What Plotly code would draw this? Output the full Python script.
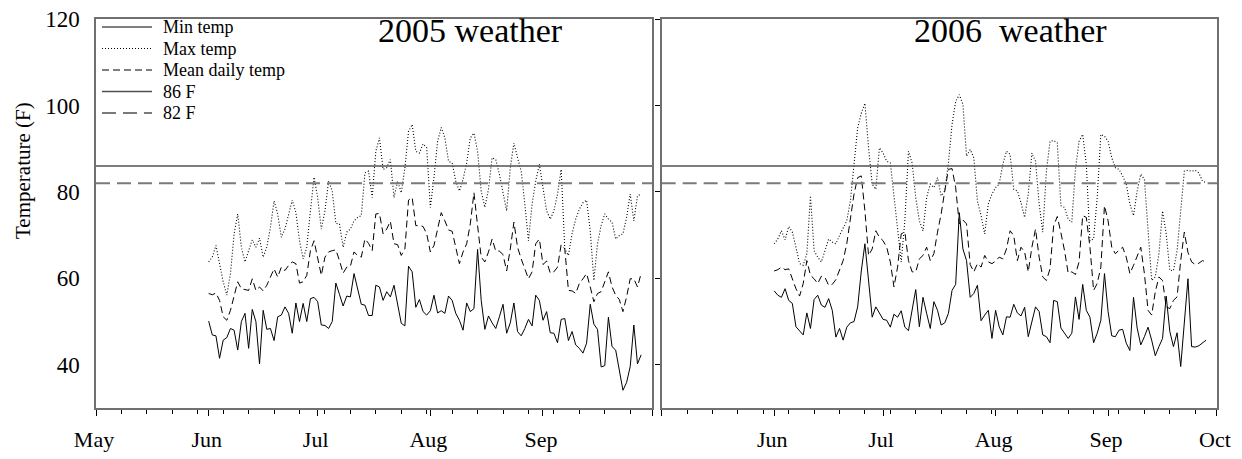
import pandas as pd
import plotly.graph_objects as go

# ---------------- data ----------------
START_2005 = "2005-06-01"
START_2006 = "2006-06-01"

min_2005 = [50.1, 46.9, 46.7, 41.5, 45.7, 46.3, 48.4, 48.0, 43.4, 50.0, 51.9, 43.8, 52.8, 50.0, 40.2, 52.6,
            48.2, 48.4, 45.6, 51.1, 51.5, 53.4, 51.9, 47.3, 54.3, 50.0, 54.2, 50.0, 55.3, 55.6, 54.6, 49.2,
            49.1, 48.4, 50.0, 58.9, 56.3, 53.6, 55.9, 55.7, 61.1, 57.6, 54.0, 53.8, 51.4, 51.4, 58.4, 58.0,
            54.9, 56.9, 55.7, 58.4, 54.2, 49.6, 49.0, 62.8, 61.5, 53.3, 55.1, 52.3, 51.5, 52.5, 56.1, 52.0,
            52.5, 51.9, 55.9, 54.9, 51.9, 50.3, 48.0, 54.3, 52.3, 53.0, 66.7, 54.9, 48.2, 51.3, 49.7, 48.4,
            51.1, 54.0, 47.3, 49.7, 54.3, 47.7, 46.7, 48.4, 50.5, 49.0, 56.1, 54.9, 50.3, 52.3, 47.4, 47.3,
            45.1, 50.5, 50.7, 45.6, 47.7, 44.6, 43.8, 42.7, 45.0, 54.0, 49.4, 48.2, 39.5, 39.8, 51.0, 44.2,
            43.4, 39.0, 34.1, 35.9, 39.6, 49.2, 40.2, 42.3]
max_2005 = [63.8, 64.9, 67.6, 63.4, 59.2, 56.1, 61.1, 70.3, 74.9, 67.2, 63.8, 66.4, 68.9, 67.2, 69.3, 64.9,
            67.2, 71.8, 77.9, 74.9, 69.5, 71.4, 74.9, 78.1, 75.2, 68.7, 64.5, 67.2, 75.6, 83.4, 78.7, 71.4,
            75.6, 82.5, 80.2, 72.7, 72.6, 67.2, 70.7, 71.4, 73.3, 74.1, 74.5, 84.4, 84.8, 78.7, 89.4,
            92.5, 85.2, 85.6, 87.5, 78.7, 82.5, 79.8, 85.6, 94.0, 95.6, 89.4, 89.0, 91.1, 90.2, 76.4, 83.3,
            91.7, 94.9, 92.5, 87.1, 86.7, 82.5, 80.2, 82.9, 86.7, 92.5, 93.6, 89.4, 80.2, 76.4, 80.6, 87.9,
            87.5, 84.1, 80.2, 75.6, 85.6, 91.3, 87.9, 84.8, 77.2, 68.7, 77.2, 82.5, 86.4, 81.0, 75.6, 73.7,
            75.6, 79.5, 85.2, 66.8, 65.3, 70.3, 73.7, 76.0, 77.5, 78.1, 71.0, 59.5, 68.0, 72.2, 74.9, 73.7,
            73.0, 69.1, 69.9, 70.3, 74.1, 79.5, 73.3, 79.1, 79.5]
mean_2005 = [56.5, 56.2, 56.6, 54.9, 51.1, 50.3, 52.6, 55.7, 59.2, 57.6, 57.4, 57.2, 59.9, 57.2, 58.0, 57.1,
             58.4, 60.3, 62.2, 60.3, 62.6, 61.8, 63.0, 63.8, 63.4, 58.9, 59.2, 60.7, 66.4, 68.7, 64.9, 60.7,
             64.9, 66.1, 66.4, 66.6, 64.1, 61.2, 62.6, 62.8, 66.1, 65.3, 64.9, 69.1, 68.1, 66.4, 74.9,
             75.0, 70.3, 71.4, 73.2, 68.0, 67.8, 65.3, 66.8, 78.1, 78.7, 72.2, 72.2, 72.0, 70.3, 66.1, 67.6,
             71.8, 75.2, 73.3, 71.2, 70.9, 67.2, 63.4, 66.1, 68.0, 72.6, 79.8, 72.2, 64.9, 63.8, 66.1, 69.1,
             66.3, 66.3, 65.5, 61.7, 66.8, 73.0, 67.2, 64.5, 62.2, 59.9, 61.5, 68.0, 69.1, 63.2, 64.0, 61.2,
             61.5, 62.6, 67.8, 66.8, 57.2, 57.1, 56.5, 58.8, 59.9, 61.1, 58.0, 54.6, 56.5, 56.9, 59.2, 61.5,
             58.0, 56.1, 55.1, 52.3, 55.7, 59.9, 59.9, 58.0, 61.1]

min_2006 = [57.1, 56.1, 55.6, 57.6, 54.9, 54.2, 48.8, 47.9, 46.9, 52.0, 48.4, 55.1, 56.1, 53.8, 53.3, 55.3,
            52.6, 46.4, 48.4, 45.7, 48.7, 49.7, 50.0, 53.4, 61.7, 68.0, 58.8, 51.0, 53.4, 51.9, 50.5, 50.3,
            48.7, 51.7, 51.0, 52.5, 48.7, 47.9, 52.6, 57.4, 48.8, 55.6, 51.9, 48.4, 54.6, 52.6, 49.2, 49.7,
            51.9, 57.2, 58.6, 75.2, 66.8, 64.1, 55.6, 56.5, 58.4, 50.2, 51.5,
            52.6, 46.1, 52.6, 48.8, 46.9, 51.1, 51.0, 54.0, 52.0, 51.3, 53.3, 46.5, 49.7, 53.4, 52.3, 46.9,
            46.5, 45.1, 54.9, 54.6, 48.5, 47.3, 46.1, 47.3, 55.7, 50.5, 58.6, 52.6, 51.0, 45.1, 47.3, 50.3,
            61.1, 52.3, 46.7, 46.5, 48.0, 48.2, 45.0, 43.3, 55.6, 48.5, 44.6, 46.5, 48.7, 45.7, 42.1, 44.2,
            46.1, 55.9, 47.7, 44.2, 47.4, 39.6, 49.6, 59.9, 44.2, 44.1, 44.4, 45.0, 45.7]
max_2006 = [68.0, 69.1, 71.0, 68.9, 72.0, 70.7, 67.2, 63.4, 63.0, 65.7, 79.1, 66.4, 64.9, 63.8, 66.4, 69.1,
            68.4, 68.0, 69.9, 71.8, 73.3, 77.9, 86.4, 94.8, 98.2, 100.5, 90.2, 81.8, 80.6, 90.2, 89.0, 87.1,
            86.7, 78.7, 71.8, 63.8, 73.3, 89.4, 86.7, 78.7, 73.3, 71.0, 78.7, 81.8, 81.0, 83.3, 79.1, 80.2,
            86.7, 95.6, 100.9, 102.5, 100.2, 88.3, 89.8, 87.9, 77.9, 74.5, 70.3,
            77.2, 79.5, 81.0, 81.8, 86.4, 89.4, 88.7, 80.6, 80.2, 77.5, 74.1, 79.5, 89.0, 87.1, 77.2, 70.7,
            84.8, 91.7, 91.9, 91.3, 76.8, 76.4, 73.7, 73.0, 85.2, 91.7, 93.3, 86.4, 68.7, 69.1, 78.7, 93.3,
            92.9, 91.7, 87.9, 85.6, 85.2, 83.7, 81.8, 77.2, 74.5, 80.2, 84.1, 82.9, 71.0, 59.5, 60.3, 65.7,
            75.6, 70.3, 61.8, 61.8, 66.4, 74.9, 84.8, 85.0, 84.8, 85.0, 84.4, 82.5, 82.1]
mean_2006 = [61.7, 62.0, 62.6, 62.0, 62.2, 59.7, 57.6, 55.9, 58.8, 64.1, 60.7, 59.9, 58.8, 60.5, 60.2, 58.4,
             58.6, 59.7, 61.8, 64.1, 68.0, 73.3, 79.5, 83.3, 83.7, 75.6, 65.3, 66.8, 71.0, 69.5, 68.7, 67.2,
             63.8, 58.0, 62.6, 70.3, 70.7, 64.1, 61.5, 61.5, 64.5, 65.3, 67.2, 64.1, 65.7, 70.7, 74.9, 80.2,
             85.2, 85.4, 81.0, 72.6, 73.5, 72.6, 63.2, 61.5, 63.4, 62.6, 65.3,
             63.8, 63.4, 64.0, 64.9, 64.5, 66.8, 71.0, 69.9, 64.1, 67.2, 66.1, 61.5, 67.2, 71.4, 64.9, 60.3,
             59.5, 62.2, 72.2, 74.3, 70.5, 66.4, 61.2, 61.5, 60.9, 63.8, 74.5, 74.1, 67.2, 57.2, 58.8, 62.6,
             76.8, 73.3, 67.2, 65.7, 66.5, 67.2, 64.9, 61.1, 63.0, 64.9, 67.2, 61.1, 52.6, 51.5, 56.9, 60.3,
             59.5, 53.4, 53.0, 54.9, 55.7, 64.1, 70.7, 66.0, 63.8, 63.2, 63.5, 64.1, 63.8]

threshold_names = ["86 F", "82 F"]
threshold_values = [86, 82]
series_names = ["Min temp", "Max temp", "Mean daily temp"]

month_ticks = ["05-01", "06-01", "07-01", "08-01", "09-01", "10-01"]
labels_left = ["May", "Jun", "Jul", "Aug", "Sep", ""]
labels_right = ["", "Jun", "Jul", "Aug", "Sep", "Oct"]
y_ticks = [40, 60, 80, 100, 120]

# ---------------- figure ----------------
FONT = "Liberation Serif, Times New Roman, serif"
fig = go.Figure()

styles = {
    "Min temp": dict(color="black", width=1, dash="solid"),
    "Max temp": dict(color="black", width=1.1, dash="1px,2px"),
    "Mean daily temp": dict(color="black", width=1, dash="7px,4px"),
    "86 F": dict(color="#505050", width=1.4, dash="solid"),
    "82 F": dict(color="#7a7a7a", width=1.8, dash="14px,7px"),
}

panels = [
    ("2005", START_2005, min_2005, max_2005, mean_2005, "x", "y"),
    ("2006", START_2006, min_2006, max_2006, mean_2006, "x2", "y2"),
]
for year, start, mn, mx, me, xa, ya in panels:
    for name, vals in zip(series_names, [mn, mx, me]):
        dates = pd.date_range(start, periods=len(vals), freq="D")
        fig.add_trace(go.Scatter(x=dates, y=vals, mode="lines", name=name, line=styles[name],
                                 xaxis=xa, yaxis=ya, showlegend=False))
    for name, v in zip(threshold_names, threshold_values):
        fig.add_trace(go.Scatter(x=[f"{year}-05-01", f"{year}-10-01"], y=[v, v], mode="lines", name=name,
                                 line=styles[name], xaxis=xa, yaxis=ya, showlegend=False))

# legend drawn as line samples + text (to match the reference's compact key)
PLOT_L, PLOT_W, PLOT_B, PLOT_H = 96, 1121, 408, 389
def px_x(x): return (x - PLOT_L) / PLOT_W
def px_y(y): return (PLOT_B - y) / PLOT_H

shapes, annotations = [], []
legend_rows = [27, 48.5, 70, 91.5, 113]
for name, yrow in zip(series_names + threshold_names, legend_rows):
    st = styles[name]
    shapes.append(dict(type="line", xref="paper", yref="paper", x0=px_x(102), x1=px_x(152),
                       y0=px_y(yrow), y1=px_y(yrow),
                       line=dict(color=st["color"], width=st["width"], dash=st["dash"])))
    annotations.append(dict(text=name, x=px_x(162), y=px_y(yrow), xref="paper", yref="paper",
                            showarrow=False, xanchor="left", yanchor="middle", borderpad=0,
                            font=dict(family=FONT, size=18, color="black")))

annotations += [
    dict(text="2005 weather", x=px_x(470), y=px_y(31), xref="paper", yref="paper", showarrow=False,
         xanchor="center", yanchor="middle", font=dict(family=FONT, size=34, color="black")),
    dict(text="2006\u00a0 weather", x=px_x(1011), y=px_y(31), xref="paper", yref="paper", showarrow=False,
         xanchor="center", yanchor="middle", font=dict(family=FONT, size=34, color="black")),
    dict(text="Temperature (F)", x=px_x(23), y=px_y(171), xref="paper", yref="paper", showarrow=False,
         textangle=-90, xanchor="center", yanchor="middle", font=dict(family=FONT, size=21, color="black")),
]

frame = dict(showline=True, mirror=True, linecolor="#707070", linewidth=1.5, showgrid=False,
             zeroline=False, automargin=False, ticklabeloverflow="allow")
week = 7 * 86400000

def xaxis_cfg(year, labels, domain):
    return dict(frame, type="date", domain=domain, range=[f"{year}-05-01", f"{year}-10-01"],
                tickmode="array", tickvals=[f"{year}-{m}" for m in month_ticks], ticktext=labels,
                ticks="outside", ticklen=6, tickwidth=1, tickcolor="black",
                ticklabelstandoff=5, ticklabelshift=-2,
                tickfont=dict(family=FONT, size=22, color="black"),
                minor=dict(tickmode="linear", tick0=f"{year}-05-01", dtick=week, ticks="outside",
                           ticklen=4, tickwidth=1, tickcolor="black", showgrid=False))

# the page body adds an 8px offset, so the figure is sized to land on the reference's pixels
fig.update_layout(
    width=1234, height=451,
    margin=dict(l=88, r=25, t=11, b=51, autoexpand=False),
    paper_bgcolor="white", plot_bgcolor="white",
    font=dict(family=FONT, color="black"),
    xaxis=xaxis_cfg("2005", labels_left, [0, 0.496]),
    xaxis2=xaxis_cfg("2006", labels_right, [0.5046, 1]),
    yaxis=dict(frame, range=[30, 120], tickmode="array", tickvals=y_ticks, ticks="",
               ticklabelstandoff=10, tickfont=dict(family=FONT, size=23, color="black")),
    yaxis2=dict(frame, range=[30, 120], anchor="x2", tickmode="array", tickvals=y_ticks, ticks="outside",
                ticklen=5, tickcolor="black", showticklabels=False),
    showlegend=False,
    shapes=shapes,
    annotations=annotations,
)

fig.write_html("out.html")
